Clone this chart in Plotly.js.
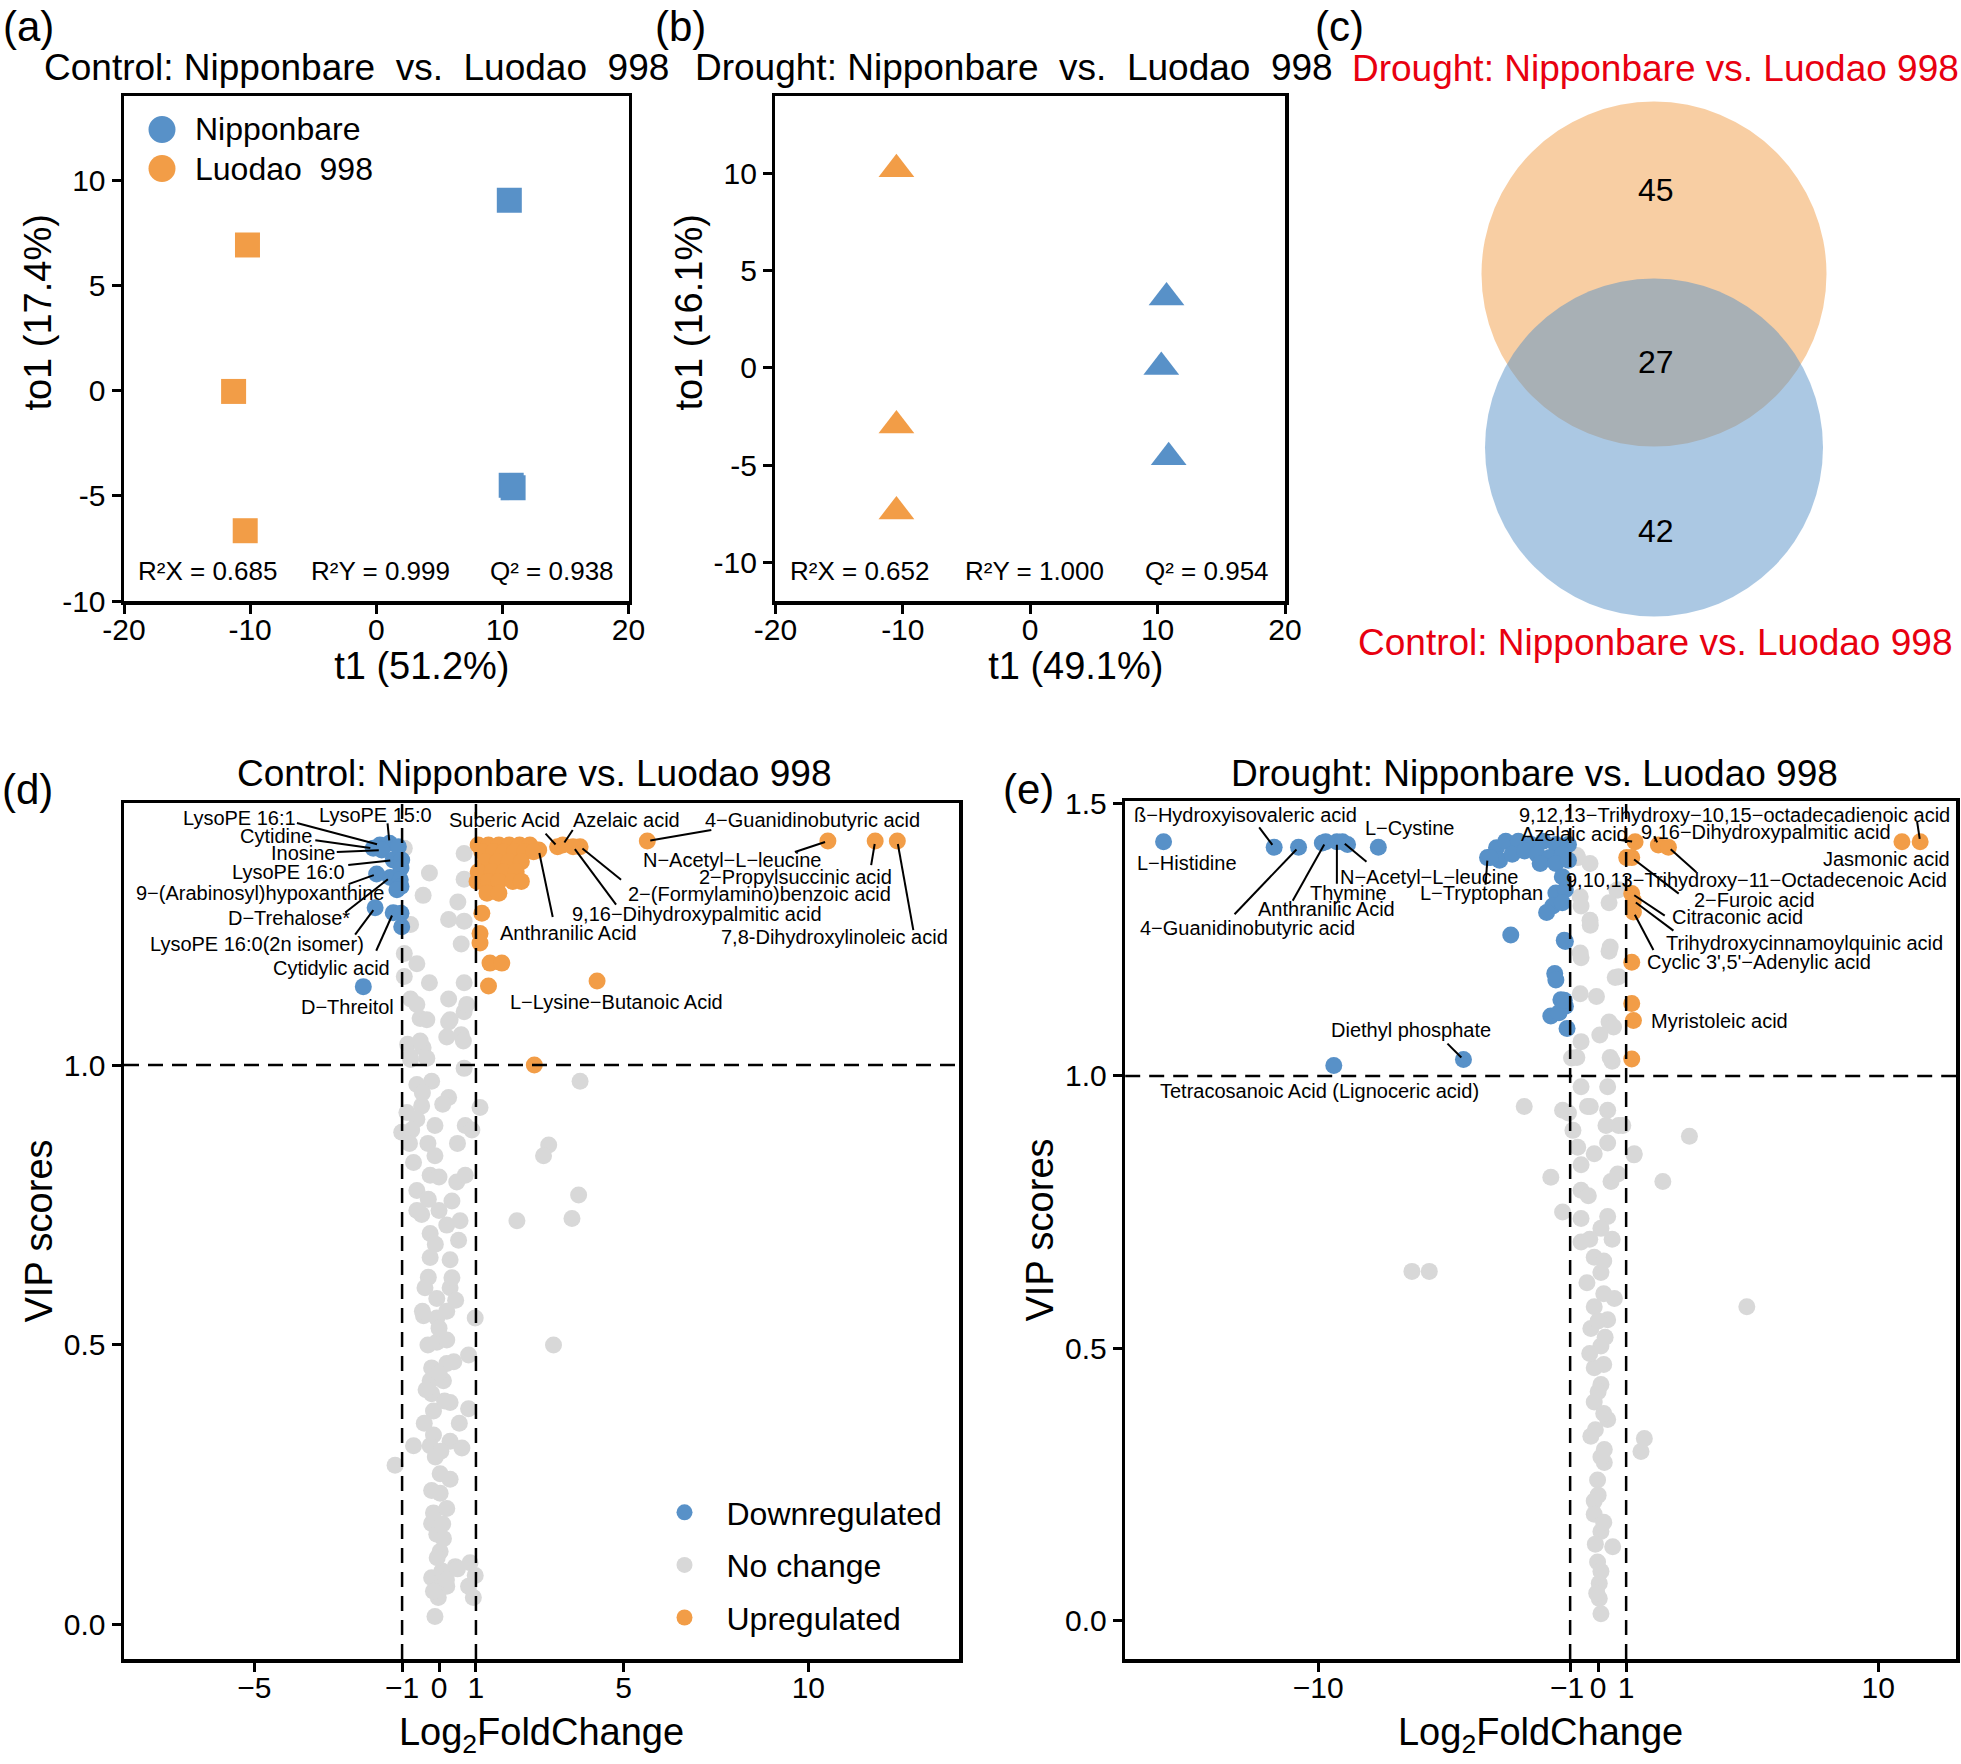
<!DOCTYPE html>
<html><head><meta charset="utf-8">
<script src="https://cdn.plot.ly/plotly-3.0.1.min.js"></script>
<style>html,body{margin:0;padding:0;background:#fff}#chart{width:1961px;height:1764px}</style>
</head><body><div id="chart"></div>
<script>
// ================= DATA =================
// (a) OPLS-DA scores, Control
const aNipX = [10.55, 10.70, 10.85];
const aNipY = [9.04, -4.50, -4.62];
const aLuoX = [-10.21, -11.31, -10.39];
const aLuoY = [6.92, -0.04, -6.66];
const aStats = ['R²X = 0.685', 'R²Y = 0.999', 'Q² = 0.938'];
// (b) OPLS-DA scores, Drought
const bNipX = [10.70, 10.29, 10.87];
const bNipY = [3.62, 0.05, -4.60];
const bLuoX = [-10.50, -10.50, -10.50];
const bLuoY = [10.23, -2.97, -7.39];
const bStats = ['R²X = 0.652', 'R²Y = 1.000', 'Q² = 0.954'];
const groupNames = ['Nipponbare', 'Luodao\u00a0 998'];
// (c) Venn counts: drought only, shared, control only
const vennCounts = ['45', '27', '42'];
const vennSets = ['Drought: Nipponbare vs. Luodao 998', 'Control: Nipponbare vs. Luodao 998'];

// (d) Control volcano (Log2FC, VIP)
const dDownX = [-1.60, -1.34, -1.78, -1.55, -1.24, -1.69, -1.32, -1.73, -1.24, -2.05, -1.10, -1.01, -1.03, -1.05, -1.03, -1.14, -1.03, -1.01];
const dDownY = [1.393, 1.396, 1.387, 1.384, 1.366, 1.341, 1.335, 1.281, 1.272, 1.140, 1.390, 1.366, 1.352, 1.331, 1.319, 1.313, 1.271, 1.247];
const dDownLab = ['LysoPE 16:1', 'LysoPE 15:0', 'Cytidine', 'Inosine', 'LysoPE 16:0', '9−(Arabinosyl)hypoxanthine', 'D−Trehalose*', 'LysoPE 16:0(2n isomer)', 'Cytidylic acid', 'D−Threitol', '', '', '', '', '', '', '', ''];
const dUpX = [3.21, 3.35, 5.64, 10.53, 11.81, 3.82, 3.63, 2.70, 12.41, 4.28, 2.58,
  1.06, 1.34, 1.62, 1.90, 2.18, 2.46,
  1.16, 1.48, 1.76, 2.04, 2.32, 2.56,
  1.25, 1.58, 1.90, 2.23,
  1.06, 1.44, 1.76, 2.09,
  1.03, 1.34, 1.62, 2.00, 2.23,
  1.30, 1.62,
  1.16, 1.11, 1.11, 1.38, 1.70, 1.34];
const dUpY = [1.390, 1.393, 1.400, 1.400, 1.400, 1.390, 1.390, 1.384, 1.400, 1.150, 1.000,
  1.393, 1.393, 1.393, 1.393, 1.393, 1.393,
  1.381, 1.381, 1.381, 1.381, 1.381, 1.381,
  1.363, 1.363, 1.363, 1.363,
  1.345, 1.345, 1.345, 1.345,
  1.328, 1.328, 1.328, 1.328, 1.328,
  1.307, 1.307,
  1.271, 1.235, 1.218, 1.182, 1.182, 1.141];
const dUpLab = ['Suberic Acid', 'Azelaic acid', '4−Guanidinobutyric acid', 'N−Acetyl−L−leucine', '2−Propylsuccinic acid', '2−(Formylamino)benzoic acid', '9,16−Dihydroxypalmitic acid', 'Anthranilic Acid', '7,8-Dihydroxylinoleic acid', 'L−Lysine−Butanoic Acid'];
const dNoX = [-0.94, -0.26, 0.68, -0.43, -0.77, 0.68, 0.51, 0.26, 0.68, 0.60, -0.94, -0.60, -0.94, -0.26, -0.77, 0.26, 0.68, 0.68, -0.51, 0.26, 0.60, -0.85, -0.43, -0.77, 0.68,
  -0.60, -0.33, 0.30, 0.75, -0.51, 0.21, 0.66, -0.78, -0.33,
  3.82, -0.60, -0.20, 0.26, 1.11, -0.87, -0.47, -0.60, -0.11, -1.01, 0.71, 0.89, -0.74, 2.97, 2.83, -0.69, -0.11, -0.24, 0.48, 0.71,
  3.78, 3.60, 2.11, -0.60, -0.29, 0.35, -0.47, 0.57, -0.24, 0.21, 0.53, -0.24, 0.30, -0.29, 0.30, -0.38, -0.06, -0.42, -0.06, 0.21, 0.98,
  -0.06, 0.21, 0.80, 3.10, -0.20, 0.21, -0.24, 0.12, -0.20, 0.30, -0.15, 0.80, -0.15, 0.30, -0.69, -0.24, 0.62, -1.19,
  0.03, 0.03, -0.15, 0.21, -0.20, -0.06, 0.12, 0.03, -0.20, 0.08, 0.44, 0.84, 0.98, -0.02, 0.21, 0.80, 0.93, -0.02, -0.11,
  -0.45, 0.10, -0.80, 0.50, -0.30, 0.00, -0.60, 0.00, -0.10, 0.35, -0.45, 0.45, 0.00, -0.30, 0.40, 0.00, -0.35, 0.15, 0.55, -0.40, 0.05, -0.10, 0.30, -0.20, 0.10, -0.05, 0.20, -0.15, 0.50];
const dNoY = [1.387, 1.343, 1.378, 1.303, 1.251, 1.332, 1.291, 1.260, 1.257, 1.216, 1.199, 1.181, 1.158, 1.147, 1.118, 1.118, 1.147, 1.095, 1.083, 1.077, 1.054, 1.037, 1.031, 1.010, 0.994,
  1.108, 1.081, 1.081, 1.108, 1.043, 1.050, 1.043, 1.015, 1.012,
  0.971, 0.965, 0.971, 0.942, 0.924, 0.915, 0.927, 0.903, 0.892, 0.880, 0.892, 0.884, 0.884, 0.857, 0.838, 0.826, 0.838, 0.803, 0.791, 0.803,
  0.768, 0.726, 0.722, 0.776, 0.760, 0.757, 0.733, 0.722, 0.699, 0.714, 0.687, 0.656, 0.652, 0.621, 0.602, 0.602, 0.583, 0.552, 0.548, 0.560, 0.548,
  0.505, 0.509, 0.482, 0.500, 0.459, 0.467, 0.436, 0.436, 0.413, 0.397, 0.382, 0.386, 0.339, 0.328, 0.320, 0.320, 0.316, 0.285,
  0.270, 0.235, 0.200, 0.208, 0.181, 0.162, 0.154, 0.131, 0.084, 0.096, 0.104, 0.111, 0.088, 0.065, 0.069, 0.069, 0.049, 0.049, 0.015,
  0.950, 0.930, 0.860, 0.860, 0.860, 0.800, 0.740, 0.740, 0.680, 0.620, 0.560, 0.580, 0.530, 0.500, 0.470, 0.450, 0.420, 0.400, 0.360, 0.360, 0.310, 0.300, 0.260, 0.240, 0.180, 0.120, 0.080, 0.060, 0.100];

// (e) Drought volcano
const eDownX = [-15.52, -11.57, -10.70, -9.73, -9.33, -9.13, -7.85, -3.95, -4.81, -9.44, -3.12, -9.85, -8.95,
  -3.63, -3.30, -2.85, -2.40, -1.96, -1.51, -1.06, -3.52, -3.07, -2.63, -2.18, -1.73, -1.28, -2.07, -1.51, -1.06, -3.85,
  -1.28, -1.51, -1.17, -1.62, -1.84, -1.28, -1.17, -1.21, -1.55, -1.51, -1.33, -1.17, -1.69, -1.40, -1.11, -1.21];
const eDownY = [1.430, 1.420, 1.420, 1.430, 1.430, 1.430, 1.420, 1.401, 1.030, 1.019, 1.259, 1.428, 1.425,
  1.419, 1.431, 1.431, 1.425, 1.431, 1.425, 1.425, 1.396, 1.407, 1.413, 1.407, 1.401, 1.407, 1.390, 1.390, 1.396, 1.401,
  1.366, 1.336, 1.342, 1.312, 1.300, 1.318, 1.247, 1.249, 1.188, 1.176, 1.140, 1.128, 1.110, 1.116, 1.087, 1.139];
const eDownLab = ['L−Histidine', 'ß−Hydroxyisovaleric acid', '4−Guanidinobutyric acid', 'Anthranilic Acid', 'Thymine', 'N−Acetyl−L−leucine', 'L−Cystine', 'L−Tryptophan', 'Diethyl phosphate', 'Tetracosanoic Acid (Lignoceric acid)'];
const eUpX = [1.32, 1.20, 1.02, 2.15, 2.51, 10.85, 11.50, 1.20, 1.26, 1.26, 1.20, 1.20, 1.26, 1.20];
const eUpY = [1.430, 1.401, 1.401, 1.424, 1.420, 1.430, 1.430, 1.335, 1.322, 1.301, 1.209, 1.133, 1.102, 1.031];
const eUpLab = ['Azelaic acid', '2−Furoic acid', '', '9,16−Dihydroxypalmitic acid', '9,10,13−Trihydroxy−11−Octadecenoic Acid', 'Jasmonic acid', '9,12,13−Trihydroxy−10,15−octadecadienoic acid', 'Citraconic acid', 'Trihydroxycinnamoylquinic acid', "Cyclic 3',5'−Adenylic acid", '', '', 'Myristoleic acid', ''];
const eNoX = [-0.73, -0.76, -0.29, 0.67, -0.64, -0.61, -0.28, -0.29, 0.43, -0.64, 0.39, 0.73, 0.61, -0.61, -0.06, -0.64, 0.39, 0.55, -0.61, 0.06, 0.50, -0.95, -0.76, 0.43, 0.73, 0.39,
  -2.64, -1.27, -0.38, 0.34, -0.61, 0.34, 0.88, 3.26, -0.73, -0.14, 0.34, 1.29, -1.69, 2.31, -0.61, 0.46, -1.27, -0.61, 0.34, -0.61, -0.14, 0.10, 0.58, -0.14, 0.34, -0.26, 0.10, -0.14, 0.10, -0.14, 0.34,
  1.65, 1.53, -0.26, 0.22, 0.22, -0.02, -0.14, -0.14, 0.10, 0.52, -0.02, 0.04, 0.04, 0.10,
  -6.65, -6.03, 5.31,
  -1.06, -0.28, 0.28, 0.73, 1.28, -0.61, -0.40, 0.20, 0.00, 0.25, -0.30, 0.20, 0.00, 0.20, -0.10, 0.10, 0.00, 0.20, -0.10, 0.10, -0.05, 0.50, -0.35, 0.70, -0.90, 0.10, -0.30, 0.20];
const eNoY = [1.401, 1.405, 1.390, 1.341, 1.329, 1.312, 1.277, 1.286, 1.237, 1.226, 1.229, 1.182, 1.181, 1.217, 1.146, 1.151, 1.099, 1.090, 1.063, 1.075, 1.027, 1.033, 1.034, 1.034, 1.342, 1.318,
  0.944, 0.937, 0.944, 0.937, 0.980, 0.980, 0.909, 0.889, 0.869, 0.857, 0.877, 0.857, 0.814, 0.806, 0.790, 0.806, 0.750, 0.738, 0.742, 0.695, 0.667, 0.639, 0.591, 0.576, 0.552, 0.536, 0.504, 0.464, 0.433, 0.401, 0.369,
  0.334, 0.310, 0.338, 0.314, 0.290, 0.258, 0.219, 0.195, 0.163, 0.135, 0.107, 0.068, 0.040, 0.012,
  0.641, 0.641, 0.576,
  0.932, 0.944, 0.909, 0.909, 0.855, 0.837, 0.620, 0.600, 0.550, 0.520, 0.490, 0.470, 0.420, 0.380, 0.350, 0.300, 0.230, 0.180, 0.140, 0.090, 0.050, 0.700, 0.780, 0.820, 0.900, 0.720, 0.700, 0.660];
const volcanoClasses = ['Downregulated', 'No change', 'Upregulated'];

// ================= STYLE / LAYOUT =================
const FONT = 'Liberation Sans, Arial, Helvetica, sans-serif';
const BLUE = '#5891C8', ORANGE = '#F29D47', GREY = '#D8D8D8', RED = 'rgb(232,0,16)';
const W = 1961, H = 1764;
const px = v => v / W, py = v => 1 - v / H;
// leading (untrimmed) spaces nudge the PCA axis titles off-centre, as in the original figure
const XT_PAD = '\u200B\u2003\u2003\u2009\u2009', YT_PAD = '\u200B\u2003\u2002\u2009\u2009';

// label placement (pixels): t = text-centre offset from point, l = leader-line start offset
const dLabelPos = {
  'LysoPE 16:1': {t: [-140, -27], l: [-83, -22]},
  'LysoPE 15:0': {t: [-14, -28], l: [-2, -20]},
  'Cytidine': {t: [-97, -12], l: [-58, -8]},
  'Inosine': {t: [-78, 3], l: [-45, 2]},
  'LysoPE 16:0': {t: [-105, 12], l: [-45, 5]},
  '9−(Arabinosyl)hypoxanthine': {t: [-116, 19], l: [-28, 10]},
  'D−Trehalose*': {t: [-101, 41], l: [-45, 35]},
  'LysoPE 16:0(2n isomer)': {t: [-118, 36], l: [-20, 27]},
  'Cytidylic acid': {t: [-62, 55], l: [-17, 38]},
  'D−Threitol': {t: [-16, 20]},
  'Suberic Acid': {t: [-53, -27], l: [-12, -13]},
  'Azelaic acid': {t: [64, -25], l: [10, -15]},
  '4−Guanidinobutyric acid': {t: [165, -21], l: [64, -11]},
  'N−Acetyl−L−leucine': {t: [-96, 19], l: [-33, 11]},
  '2−Propylsuccinic acid': {t: [-80, 36], l: [-4, 24]},
  '2−(Formylamino)benzoic acid': {t: [179, 47], l: [41, 33]},
  '9,16−Dihydroxypalmitic acid': {t: [124, 67], l: [43, 58]},
  'Anthranilic Acid': {t: [30, 83], l: [14, 67]},
  '7,8-Dihydroxylinoleic acid': {t: [-63, 96], l: [16, 89]},
  'L−Lysine−Butanoic Acid': {t: [19, 21]}
};
const eLabelPos = {
  'L−Histidine': {t: [23, 21]},
  'ß−Hydroxyisovaleric acid': {t: [-29, -32], l: [-15, -20]},
  '4−Guanidinobutyric acid': {t: [-51, 81], l: [-64, 67]},
  'Anthranilic Acid': {t: [1, 67], l: [-33, 59]},
  'Thymine': {t: [12, 51], l: [0, 42]},
  'N−Acetyl−L−leucine': {t: [87, 35], l: [24, 20]},
  'L−Cystine': {t: [32, -19]},
  'L−Tryptophan': {t: [-6, 35], l: [-2, 27]},
  'Diethyl phosphate': {t: [-52, -30], l: [-16, -16]},
  'Tetracosanoic Acid (Lignoceric acid)': {t: [-14, 25]},
  'Azelaic acid': {t: [-61, -8], l: [-17, -2]},
  '9,16−Dihydroxypalmitic acid': {t: [108, -13], l: [-4, -9]},
  '9,10,13−Trihydroxy−11−Octadecenoic Acid': {t: [88, 33], l: [28, 25]},
  '2−Furoic acid': {t: [123, 42], l: [47, 36]},
  'Citraconic acid': {t: [106, 23], l: [33, 22]},
  'Trihydroxycinnamoylquinic acid': {t: [171, 42], l: [40, 30]},
  "Cyclic 3',5'−Adenylic acid": {t: [126, 50], l: [20, 38]},
  'Myristoleic acid': {t: [86, 1]},
  'Jasmonic acid': {t: [-15, 17]},
  '9,12,13−Trihydroxy−10,15−octadecadienoic acid': {t: [-186, -27], l: [-3, -20]}
};

const leaderLines = [];
function pointLabels(xs, ys, labs, spec, xref, yref) {
  const anns = [];
  labs.forEach((lab, i) => {
    if (!lab || !spec[lab]) return;
    const s = spec[lab];
    if (s.l) {
      const len = Math.hypot(s.l[0], s.l[1]) || 1, gap = 3;
      leaderLines.push({type: 'line', xref, yref, xsizemode: 'pixel', ysizemode: 'pixel',
        xanchor: xs[i], yanchor: ys[i], x0: s.l[0], y0: -s.l[1],
        x1: gap * s.l[0] / len, y1: -gap * s.l[1] / len, line: {color: '#000', width: 2}});
    }
    anns.push({xref, yref, x: xs[i], y: ys[i], text: lab, showarrow: false, xshift: s.t[0], yshift: -s.t[1],
      xanchor: 'center', yanchor: 'middle', font: {family: FONT, size: 20, color: '#000'}});
  });
  return anns;
}
function txt(x, y, text, size, color, extra) {
  return Object.assign({xref: 'paper', yref: 'paper', x: px(x), y: py(y), text, showarrow: false,
    xanchor: 'center', yanchor: 'middle', font: {family: FONT, size, color: color || '#000'}}, extra || {});
}
function boxAxis(extra) {
  return Object.assign({showline: true, mirror: true, linecolor: '#000', linewidth: 3.5, ticks: 'outside',
    ticklen: 9, tickwidth: 3, tickcolor: '#000', showgrid: false, zeroline: false, tickangle: 0,
    automargin: true, tickfont: {family: FONT, size: 30, color: '#000'}, fixedrange: true}, extra);
}
const axTitle = (t, s) => ({text: t, standoff: s, font: {family: FONT, size: 38, color: '#000'}});
const pcaTicks = {tickvals: [-20, -10, 0, 10, 20], ticktext: ['-20', '-10', '0', '10', '20'], ticklabelstandoff: -10};
const pcaYTicks = {tickvals: [-10, -5, 0, 5, 10], ticktext: ['-10', '-5', '0', '5', '10']};

// ================= TRACES =================
const traces = [
  {x: aNipX, y: aNipY, xaxis: 'x', yaxis: 'y', type: 'scatter', mode: 'markers', name: groupNames[0], showlegend: false,
    marker: {symbol: 'square', size: 25, color: BLUE}},
  {x: aLuoX, y: aLuoY, xaxis: 'x', yaxis: 'y', type: 'scatter', mode: 'markers', name: groupNames[1], showlegend: false,
    marker: {symbol: 'square', size: 25, color: ORANGE}},
  {x: bNipX, y: bNipY, xaxis: 'x2', yaxis: 'y2', type: 'scatter', mode: 'markers', name: groupNames[0], showlegend: false,
    marker: {symbol: 'triangle-up', size: 31, color: BLUE}},
  {x: bLuoX, y: bLuoY, xaxis: 'x2', yaxis: 'y2', type: 'scatter', mode: 'markers', name: groupNames[1], showlegend: false,
    marker: {symbol: 'triangle-up', size: 31, color: ORANGE}},
  {x: dNoX, y: dNoY, xaxis: 'x3', yaxis: 'y3', type: 'scatter', mode: 'markers', name: volcanoClasses[1],
    legend: 'legend', legendgroup: 'g2', legendrank: 2, marker: {size: 17, color: GREY}},
  {x: dDownX, y: dDownY, xaxis: 'x3', yaxis: 'y3', type: 'scatter', mode: 'markers', name: volcanoClasses[0],
    legend: 'legend', legendgroup: 'g1', legendrank: 1, marker: {size: 17, color: BLUE}},
  {x: dUpX, y: dUpY, xaxis: 'x3', yaxis: 'y3', type: 'scatter', mode: 'markers', name: volcanoClasses[2],
    legend: 'legend', legendgroup: 'g3', legendrank: 3, marker: {size: 17, color: ORANGE}},
  {x: eNoX, y: eNoY, xaxis: 'x4', yaxis: 'y4', type: 'scatter', mode: 'markers', showlegend: false,
    marker: {size: 17, color: GREY}},
  {x: eDownX, y: eDownY, xaxis: 'x4', yaxis: 'y4', type: 'scatter', mode: 'markers', showlegend: false,
    marker: {size: 17, color: BLUE}},
  {x: eUpX, y: eUpY, xaxis: 'x4', yaxis: 'y4', type: 'scatter', mode: 'markers', showlegend: false,
    marker: {size: 17, color: ORANGE}}
];

let annotations = [
  txt(28, 27, '(a)', 42), txt(680, 27, '(b)', 42), txt(1339, 27, '(c)', 42),
  txt(27.5, 789, '(d)', 42), txt(1028.5, 789, '(e)', 42),
  txt(356, 67, 'Control: Nipponbare\u00a0 vs.\u00a0 Luodao\u00a0 998', 37),
  txt(1014, 67, 'Drought: Nipponbare\u00a0 vs.\u00a0 Luodao\u00a0 998', 37),
  txt(534, 773, 'Control: Nipponbare vs. Luodao 998', 37),
  txt(1534, 773, 'Drought: Nipponbare vs. Luodao 998', 37),
  txt(207, 571, aStats[0], 26), txt(380.5, 571, aStats[1], 26), txt(552, 571, aStats[2], 26),
  txt(859.5, 571, bStats[0], 26), txt(1034, 571, bStats[1], 26), txt(1206.5, 571, bStats[2], 26),
  txt(1655, 69, vennSets[0], 37, RED), txt(1655, 643, vennSets[1], 37, RED),
  txt(1655.5, 190, vennCounts[0], 32), txt(1655.5, 362, vennCounts[1], 32), txt(1655.5, 531, vennCounts[2], 32),
  // key for panel (a)
  txt(193, 129.5, groupNames[0], 32, '#000', {xanchor: 'left'}),
  txt(193, 168.5, groupNames[1], 32, '#000', {xanchor: 'left'})
];
annotations = annotations
  .concat(pointLabels(dDownX, dDownY, dDownLab, dLabelPos, 'x3', 'y3'))
  .concat(pointLabels(dUpX, dUpY, dUpLab, dLabelPos, 'x3', 'y3'))
  .concat(pointLabels(eDownX, eDownY, eDownLab, eLabelPos, 'x4', 'y4'))
  .concat(pointLabels(eUpX, eUpY, eUpLab, eLabelPos, 'x4', 'y4'));

const dash = {color: '#000', width: 2.5, dash: '15px,9px'};
const shapes = [
  {type: 'circle', xref: 'paper', yref: 'paper', x0: px(1481.5), x1: px(1826.5), y0: py(446.5), y1: py(101.5),
    fillcolor: 'rgba(242,157,71,0.5)', line: {width: 0}, layer: 'below'},
  {type: 'circle', xref: 'paper', yref: 'paper', x0: px(1485), x1: px(1823), y0: py(616.5), y1: py(278.5),
    fillcolor: 'rgba(88,145,200,0.5)', line: {width: 0}, layer: 'below'},
  {type: 'circle', xref: 'paper', yref: 'paper', x0: px(148.5), x1: px(175.5), y0: py(143), y1: py(116),
    fillcolor: BLUE, line: {width: 0}},
  {type: 'circle', xref: 'paper', yref: 'paper', x0: px(148.5), x1: px(175.5), y0: py(182), y1: py(155),
    fillcolor: ORANGE, line: {width: 0}},
  {type: 'line', xref: 'x3', yref: 'y3 domain', x0: -1, x1: -1, y0: 0, y1: 1, line: dash},
  {type: 'line', xref: 'x3', yref: 'y3 domain', x0: 1, x1: 1, y0: 0, y1: 1, line: dash},
  {type: 'line', xref: 'x3 domain', yref: 'y3', x0: 0, x1: 1, y0: 1, y1: 1, line: dash},
  {type: 'line', xref: 'x4', yref: 'y4 domain', x0: -1, x1: -1, y0: 0, y1: 1, line: dash},
  {type: 'line', xref: 'x4', yref: 'y4 domain', x0: 1, x1: 1, y0: 0, y1: 1, line: dash},
  {type: 'line', xref: 'x4 domain', yref: 'y4', x0: 0, x1: 1, y0: 1, y1: 1, line: dash}
].concat(leaderLines);

const layout = {
  width: W, height: H, margin: {l: 0, r: 0, t: 0, b: 0, pad: 0, autoexpand: false},
  paper_bgcolor: '#fff', plot_bgcolor: 'rgba(0,0,0,0)', hovermode: false,
  font: {family: FONT, color: '#000'},
  xaxis: boxAxis(Object.assign({domain: [px(124), px(628.5)], range: [-20, 20], anchor: 'y', title: axTitle(XT_PAD + 't1 (51.2%)', 0)}, pcaTicks)),
  yaxis: boxAxis(Object.assign({domain: [py(601), py(96)], range: [-10, 14], anchor: 'x', title: axTitle(YT_PAD + 'to1 (17.4%)', 0)}, pcaYTicks)),
  xaxis2: boxAxis(Object.assign({domain: [px(775.4), px(1285)], range: [-20, 20], anchor: 'y2', title: axTitle(XT_PAD + 't1 (49.1%)', 0)}, pcaTicks)),
  yaxis2: boxAxis(Object.assign({domain: [py(601), py(96)], range: [-12, 14], anchor: 'x2', title: axTitle(YT_PAD + 'to1 (16.1%)', 0)}, pcaYTicks)),
  xaxis3: boxAxis({domain: [px(124), px(959)], range: [-8.53, 14.08], anchor: 'y3', ticklabelstandoff: -10,
    tickvals: [-5, -1, 0, 1, 5, 10], ticktext: ['−5', '−1', '0', '1', '5', '10'], title: axTitle('Log<sub>2</sub>FoldChange', 17)}),
  yaxis3: boxAxis({domain: [py(1659), py(803)], range: [-0.061, 1.468], anchor: 'x3',
    tickvals: [0, 0.5, 1], ticktext: ['0.0', '0.5', '1.0'], title: axTitle('VIP scores', 0)}),
  xaxis4: boxAxis({domain: [px(1125.2), px(1956)], range: [-16.89, 12.78], anchor: 'y4', ticklabelstandoff: -10,
    tickvals: [-10, -1, 0, 1, 10], ticktext: ['−10', '−1\u2009', '0', '1', '10'], title: axTitle('Log<sub>2</sub>FoldChange', 17)}),
  yaxis4: boxAxis({domain: [py(1659), py(801)], range: [-0.071, 1.505], anchor: 'x4',
    tickvals: [0, 0.5, 1, 1.5], ticktext: ['0.0', '0.5', '1.0', '1.5'], title: axTitle('VIP scores', 0)}),
  showlegend: true,
  legend: {x: px(642.5), y: py(1485), xanchor: 'left', yanchor: 'top', bgcolor: 'rgba(0,0,0,0)',
    font: {family: FONT, size: 32, color: '#000'}, itemwidth: 74, tracegroupgap: 8},
  shapes, annotations
};

Plotly.newPlot('chart', traces, layout, {staticPlot: true, displayModeBar: false});
</script></body></html>
